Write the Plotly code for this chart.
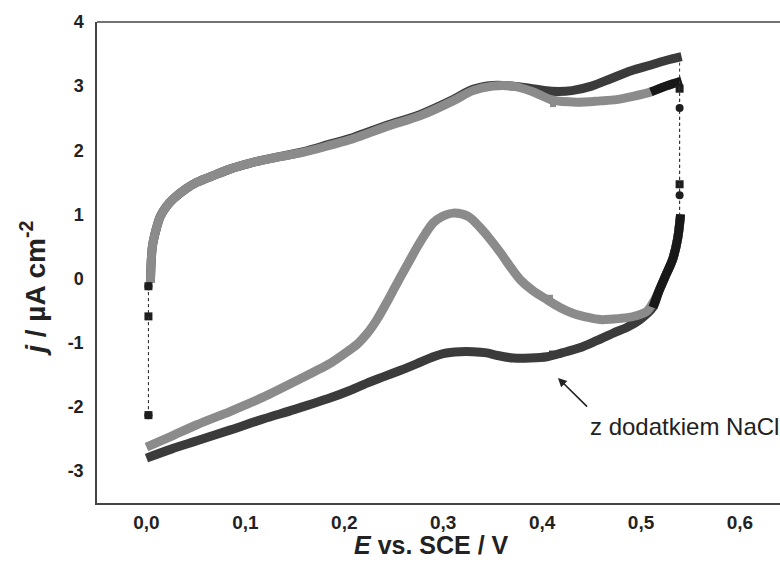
import plotly.graph_objects as go

# ---------------- data ----------------
# gray curve (bez NaCl) – anodic (upper) branch
gray_up_E = [0.004, 0.006, 0.010, 0.014, 0.020, 0.027, 0.040, 0.051, 0.070, 0.085, 0.105, 0.125,
             0.159, 0.186, 0.209, 0.243, 0.277, 0.310, 0.330, 0.350, 0.371, 0.391, 0.411, 0.435,
             0.459, 0.475, 0.492, 0.510, 0.525, 0.541]
gray_up_j = [-0.06, 0.50, 0.78, 0.97, 1.12, 1.24, 1.40, 1.50, 1.62, 1.71, 1.80, 1.87,
             1.97, 2.08, 2.18, 2.37, 2.54, 2.77, 2.93, 3.00, 3.00, 2.91, 2.78, 2.75,
             2.77, 2.79, 2.84, 2.91, 3.00, 3.08]
# gray curve – cathodic (lower) branch
gray_low_E = [0.540, 0.537, 0.532, 0.525, 0.518, 0.512, 0.506, 0.495, 0.486, 0.472, 0.459, 0.445,
              0.431, 0.418, 0.405, 0.390, 0.378, 0.368, 0.358, 0.347, 0.337, 0.325, 0.310, 0.298,
              0.290, 0.282, 0.274, 0.265, 0.257, 0.250, 0.243, 0.233, 0.223, 0.214, 0.203, 0.187,
              0.170, 0.156, 0.118, 0.085, 0.051, 0.025, 0.000]
gray_low_j = [1.00, 0.62, 0.30, 0.05, -0.20, -0.38, -0.51, -0.58, -0.61, -0.63, -0.64, -0.60,
              -0.54, -0.45, -0.33, -0.18, -0.02, 0.18, 0.40, 0.62, 0.80, 0.97, 1.02, 0.96,
              0.87, 0.70, 0.50, 0.25, 0.03, -0.17, -0.37, -0.64, -0.86, -1.01, -1.14, -1.31,
              -1.45, -1.56, -1.85, -2.07, -2.28, -2.46, -2.63]

# dark curve (z dodatkiem NaCl) – upper branch
dark_up_E = [0.004, 0.006, 0.010, 0.014, 0.020, 0.027, 0.040, 0.051, 0.070, 0.085, 0.105, 0.125,
             0.159, 0.186, 0.209, 0.243, 0.277, 0.310, 0.330, 0.350, 0.371, 0.390, 0.410, 0.430,
             0.450, 0.470, 0.490, 0.510, 0.525, 0.541]
dark_up_j = [-0.06, 0.50, 0.78, 0.97, 1.12, 1.24, 1.40, 1.50, 1.62, 1.71, 1.80, 1.87,
             1.98, 2.10, 2.20, 2.39, 2.56, 2.79, 2.95, 3.01, 3.00, 2.96, 2.92, 2.93,
             3.00, 3.12, 3.24, 3.33, 3.40, 3.46]
# dark curve – lower branch
dark_low_E = [0.540, 0.537, 0.532, 0.525, 0.518, 0.512, 0.499, 0.486, 0.472, 0.455, 0.438, 0.420,
              0.405, 0.388, 0.371, 0.355, 0.344, 0.330, 0.317, 0.300, 0.290, 0.273, 0.257, 0.240,
              0.223, 0.205, 0.186, 0.150, 0.118, 0.085, 0.051, 0.025, 0.000]
dark_low_j = [1.00, 0.62, 0.30, 0.05, -0.20, -0.45, -0.64, -0.76, -0.85, -0.97, -1.08, -1.16,
              -1.22, -1.24, -1.24, -1.20, -1.16, -1.14, -1.14, -1.17, -1.22, -1.33, -1.43, -1.53,
              -1.63, -1.75, -1.86, -2.04, -2.19, -2.36, -2.53, -2.66, -2.80]

# potential-step (dotted) connectors
jump_left_E = 0.002
jump_left_dark_j = [-2.13, -0.59, -0.12, -0.06]
jump_left_gray_j = [-2.13, -0.12, -0.06]
jump_right_E = 0.539
jump_right_dark_j = [3.46, 2.96, 1.47, 1.00]
jump_right_gray_j = [3.08, 2.66, 1.30, 1.00]

# small marks on the curves near 0.41 V
mark_E = [0.411, 0.408, 0.410]
mark_j = [2.72, -0.30, -1.17]

x_ticks = [0.0, 0.1, 0.2, 0.3, 0.4, 0.5, 0.6]
x_ticktext = ["0,0", "0,1", "0,2", "0,3", "0,4", "0,5", "0,6"]
y_ticks = [-3, -2, -1, 0, 1, 2, 3, 4]
y_ticktext = ["-3", "-2", "-1", "0", "1", "2", "3", "4"]

annot_text = "z dodatkiem NaCl"
x_title = "<i>E</i> vs. SCE / V"
y_title = "<i>j</i> / µA cm<sup>-2</sup>"

# ---------------- figure ----------------
DARK = "#3b3b3b"
GRAY = "#8b8b8b"
BLACK = "#181818"
FONT = "Liberation Sans"

fig = go.Figure()

def line(x, y, color, width):
    fig.add_trace(go.Scatter(x=x, y=y, mode="lines", showlegend=False, hoverinfo="skip",
                             line=dict(color=color, width=width, shape="spline", smoothing=0.9)))

# dark curve below gray
line(dark_up_E, dark_up_j, DARK, 9)
line(dark_low_E, dark_low_j, DARK, 9)
# gray curve
line(gray_up_E, gray_up_j, GRAY, 9)
line(gray_low_E, gray_low_j, GRAY, 9)

# black (overlapping-marker) segments near the vertex potential
seg_up = [(e, j) for e, j in zip(gray_up_E, gray_up_j) if e >= 0.51]
line([p[0] for p in seg_up], [p[1] for p in seg_up], BLACK, 9)
seg_low = [(e, j) for e, j in zip(dark_low_E, dark_low_j) if e >= 0.512]
line([p[0] for p in seg_low], [p[1] for p in seg_low], BLACK, 9)

# marks
fig.add_trace(go.Scatter(x=mark_E, y=mark_j, mode="markers", showlegend=False, hoverinfo="skip",
                         marker=dict(symbol="square", size=6, color=[GRAY, GRAY, DARK])))

# dotted connectors
def connector(E, js, symbol, marker_idx):
    n = len(js)
    fig.add_trace(go.Scatter(x=[E] * n, y=js, mode="lines", showlegend=False, hoverinfo="skip",
                             line=dict(color="#333333", width=1, dash="dot")))
    fig.add_trace(go.Scatter(x=[E] * len(marker_idx), y=[js[i] for i in marker_idx],
                             mode="markers", showlegend=False, hoverinfo="skip", opacity=1,
                             marker=dict(symbol=symbol, size=8, color="#1e1e1e", opacity=1,
                                         line=dict(width=0))))

connector(jump_left_E, jump_left_dark_j, "square", [0, 1, 2])
connector(jump_left_E, jump_left_gray_j, "circle", [0, 1])
connector(jump_right_E, jump_right_dark_j, "square", [1, 2])
connector(jump_right_E, jump_right_gray_j, "circle", [1, 2])

# annotation arrow + text
fig.add_annotation(x=0.416, y=-1.55, ax=0.447, ay=-2.02, axref="x", ayref="y",
                   xref="x", yref="y", text="", showarrow=True, arrowhead=2,
                   arrowsize=1.1, arrowwidth=1.6, arrowcolor="#222222")
fig.add_annotation(x=0.4465, y=-2.30, xref="x", yref="y", text=annot_text, showarrow=False,
                   xanchor="left", yanchor="middle",
                   font=dict(family=FONT, size=24, color="#222222"))

# y axis title (placed as in the reference)
fig.add_annotation(x=-0.094, y=0.445, xref="paper", yref="paper", text=y_title,
                   showarrow=False, textangle=-90, xanchor="center", yanchor="middle",
                   font=dict(family=FONT, size=28, color="#222222", weight="bold"))

# x axis title
fig.add_annotation(x=0.49, y=-0.1206, xref="paper", yref="paper", text=x_title,
                   showarrow=False, xanchor="center", yanchor="bottom",
                   font=dict(family=FONT, size=25, color="#222222", weight="bold"))

# top frame line
fig.add_shape(type="line", xref="paper", yref="paper", x0=0, x1=1, y0=1, y1=1,
              line=dict(color="#444444", width=1.5))

fig.update_layout(
    width=780, height=562,
    margin=dict(l=97, r=0, t=22, b=59),
    paper_bgcolor="white", plot_bgcolor="white",
    xaxis=dict(range=[-0.05, 0.6405], tickvals=x_ticks, ticktext=x_ticktext,
               showline=True, linecolor="#444444", linewidth=1.5, ticks="",
               showgrid=False, zeroline=False, automargin=False, ticklabelstandoff=1,
               tickfont=dict(family=FONT, size=19, color="#222222", weight="bold")),
    yaxis=dict(range=[-3.5, 4.0], tickvals=y_ticks, ticktext=y_ticktext,
               showline=True, linecolor="#444444", linewidth=1.5, ticks="",
               showgrid=False, zeroline=False, automargin=False, ticklabelstandoff=8,
               tickfont=dict(family=FONT, size=18, color="#222222", weight="bold")),
)

fig.write_html("out.html")
